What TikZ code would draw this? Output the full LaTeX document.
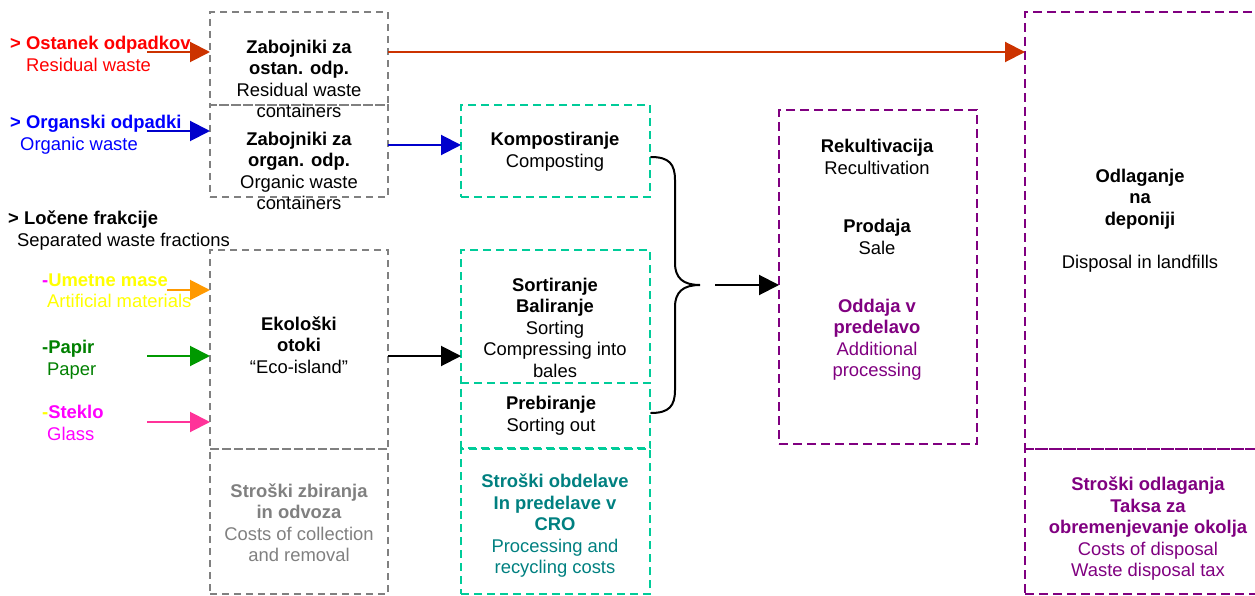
\documentclass[tikz,border=0pt]{standalone}
\usepackage{fontspec}
\setmainfont{Liberation Sans}
\usetikzlibrary{arrows.meta}
\definecolor{cgray}{HTML}{808080}
\definecolor{cred}{HTML}{FF0000}
\definecolor{credarrow}{HTML}{CC3300}
\definecolor{cblue}{HTML}{0000FF}
\definecolor{cbluearrow}{HTML}{0000CC}
\definecolor{corange}{HTML}{FF9900}
\definecolor{cyellow}{HTML}{FFFF00}
\definecolor{cmagenta}{HTML}{FF00FF}
\definecolor{cpink}{HTML}{FF3399}
\definecolor{cgreen}{HTML}{008000}
\definecolor{cgreenarrow}{HTML}{009900}
\definecolor{cgreenbox}{HTML}{00CC99}
\definecolor{cteal}{HTML}{008080}
\definecolor{cpurple}{HTML}{800080}
\begin{document}
\begin{tikzpicture}[x=1pt,y=-1pt,
  txt/.style={font=\fontsize{18.4}{21.5}\selectfont, align=center, inner sep=0pt,
    execute at begin node=\strut, execute at end node=\strut},
  lbl/.style={txt, align=left, anchor=west},
  box/.style={draw, line width=2.3pt, dash pattern=on 7pt off 5pt, anchor=north west,
    inner sep=0pt, outer sep=0pt},
  graybox/.style={box, draw=cgray},
  greenbox/.style={box, draw=cgreenbox, line width=2.8pt, dash pattern=on 8pt off 5pt},
  purplebox/.style={box, draw=cpurple, line width=2.8pt, dash pattern=on 9pt off 5pt},
  arr/.style={line width=2pt, -{Triangle[length=20pt,width=20pt]}},
  bracestyle/.style={line width=2pt, line cap=round},
]
\useasboundingbox (0,0) rectangle (1255,596);
\clip (0,0) rectangle (1255,596);

% ---------- boxes ----------
\node[graybox, minimum width=178pt, minimum height=93pt] (box1) at (210,12) {};
\node[graybox, minimum width=178pt, minimum height=92pt] (box2) at (210,105) {};
\node[graybox, minimum width=178pt, minimum height=199pt] (eco) at (210,250) {};
\node[graybox, minimum width=178pt, minimum height=145pt] (costcoll) at (210,449) {};

\node[greenbox, minimum width=189pt, minimum height=92pt] (kompost) at (461,105) {};
\node[greenbox, minimum width=189pt, minimum height=133pt] (sort) at (461,250) {};
\node[greenbox, minimum width=189pt, minimum height=65pt, dash phase=6.5pt] (preb) at (461,383) {};
\node[greenbox, minimum width=189pt, minimum height=145pt] (costproc) at (461,449) {};

\node[purplebox, minimum width=198pt, minimum height=334pt] (reuse) at (779,110) {};
\node[purplebox, minimum width=245pt, minimum height=437pt] (landfill) at (1025,12) {};
\node[purplebox, minimum width=245pt, minimum height=145pt] (costdisp) at (1025,449) {};

% ---------- box texts ----------
\node[txt] (t1) at (299,82) {\bfseries Zabojniki za\\\bfseries ostan. odp.\\Residual waste\\containers};
\node[txt] (t2) at (299,174) {\bfseries Zabojniki za\\\bfseries organ. odp.\\Organic waste\\containers};
\node[txt] (t3) at (299,348) {\bfseries Ekološki\\\bfseries otoki\\“Eco-island”};
\node[txt, text=cgray] (t4) at (299,526) {\bfseries Stroški zbiranja\\\bfseries in odvoza\\Costs of collection\\and removal};

\node[txt] (t5) at (555,153) {\bfseries Kompostiranje\\Composting};
\node[txt] (t6) at (555,331) {\bfseries Sortiranje\\\bfseries Baliranje\\Sorting\\Compressing into\\bales};
\node[txt] (t7) at (551,417) {\bfseries Prebiranje\\Sorting out};
\node[txt, text=cteal] (t8) at (555,527) {\bfseries Stroški obdelave\\\bfseries In predelave v\\\bfseries CRO\\Processing and\\recycling costs};

\node[txt] (t9) at (877,160) {\bfseries Rekultivacija\\Recultivation};
\node[txt] (t10) at (877,240) {\bfseries Prodaja\\Sale};
\node[txt, text=cpurple] (t11) at (877,341) {\bfseries Oddaja v\\\bfseries predelavo\\Additional\\processing};

\node[txt] (t12) at (1140,222) {\bfseries Odlaganje\\\bfseries na\\\bfseries deponiji\\[21.5pt]Disposal in landfills};
\node[txt, text=cpurple] (t13) at (1148,530) {\bfseries Stroški odlaganja\\\bfseries Taksa za\\\bfseries obremenjevanje okolja\\Costs of disposal\\Waste disposal tax};

% ---------- left labels ----------
\node[lbl, text=cred] (l1) at (10,57) {\bfseries > Ostanek odpadkov\\\hspace*{16pt}Residual waste};
\node[lbl, text=cblue] (l2) at (10,136) {\bfseries > Organski odpadki\\\hspace*{10pt}Organic waste};
\node[lbl] (l3) at (8,232) {\bfseries > Ločene frakcije\\\hspace*{9pt}Separated waste fractions};
\node[lbl, text=cyellow] (l4) at (42,294) {\bfseries\textcolor{cmagenta}{-}Umetne mase\\\hspace*{5pt}Artificial materials};
\node[lbl, text=cgreen] (l5) at (42,361) {\bfseries -Papir\\\hspace*{5pt}Paper};
\node[lbl, text=cmagenta] (l6) at (42,426) {\bfseries\textcolor{cyellow}{-}Steklo\\\hspace*{5pt}Glass};

% ---------- arrows ----------
\coordinate (a1) at (147,52);
\coordinate (a2) at (147,131);
\coordinate (a3) at (167,290);
\coordinate (a4) at (147,356);
\coordinate (a5) at (147,422);
\draw[arr, credarrow] (a1) -- (a1 -| box1.west);
\draw[arr, cbluearrow] (a2) -- (a2 -| box2.west);
\draw[arr, corange] (a3) -- (a3 -| eco.west);
\draw[arr, cgreenarrow] (a4) -- (a4 -| eco.west);
\draw[arr, cpink] (a5) -- (a5 -| eco.west);

\draw[arr, credarrow] (a1 -| box1.east) -- (a1 -| landfill.west);
\coordinate (b1) at (0,145);
\draw[arr, cbluearrow] (b1 -| box2.east) -- (b1 -| kompost.west);
\coordinate (b2) at (0,356);
\draw[arr, black] (b2 -| eco.east) -- (b2 -| sort.west);

% ---------- brace ----------
\coordinate (bt) at (651,157);
\coordinate (bb) at (651,413);
\coordinate (tip) at (700,285);
\draw[bracestyle] (bt) .. controls (669,157) and (675,164) .. (675,180) -- (675,263)
  .. controls (675,278) and (683,285) .. (tip)
  .. controls (683,285) and (675,292) .. (675,307) -- (675,390)
  .. controls (675,406) and (669,413) .. (bb);
\coordinate (c1) at (715,285);
\draw[arr, black] (c1) -- (c1 -| reuse.west);
\end{tikzpicture}
\end{document}
